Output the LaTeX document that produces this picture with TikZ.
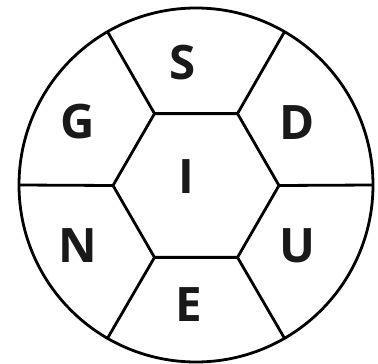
\documentclass[tikz,border=0pt]{standalone}
\usepackage{fontspec}
\setsansfont{Open Sans}
\usepackage{tikz}
\usetikzlibrary{shapes.geometric}

\begin{document}
\begin{tikzpicture}[x=1pt, y=-1pt,
    every node/.style={inner sep=0pt, outer sep=0pt},
    wall/.style={draw=black, line width=2.8pt},
    letter/.style={font=\sffamily\bfseries\fontsize{47.5}{47.5}\selectfont, text=black!90},
]
\useasboundingbox (0,0) rectangle (378,364);

% outer ring and inner hexagon
\node[wall, circle, minimum size=354pt] (ring) at (196,185) {};
\node[wall, regular polygon, regular polygon sides=6, minimum size=166pt] (hex) at (196,185.5) {};

% spokes from hexagon corners out to the ring
\foreach \a in {0,60,...,300}
    \draw[wall] (hex.\a) -- (ring.\a);

% letters
\node[letter] (s) at (182.7,62.8) {S};
\node[letter] (g) at (77.2,121.7) {G};
\node[letter] (d) at (297,122.2) {D};
\node[letter] (i) at (186.7,176.3) {I};
\node[letter] (n) at (78,246) {N};
\node[letter] (u) at (297,245.3) {U};
\node[letter] (e) at (189,305) {E};

\end{tikzpicture}
\end{document}
